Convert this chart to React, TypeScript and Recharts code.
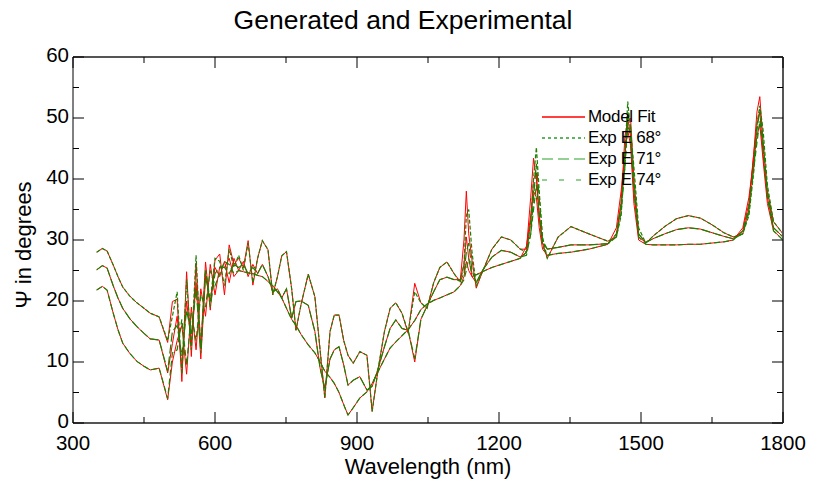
import React from 'react';
import { LineChart, Line, XAxis, YAxis } from 'recharts';

const W = 819;
const H = 489;
const FONT = '"Liberation Sans", Arial, sans-serif';

const wavelengths = [
  350, 362, 372, 385, 395, 405, 420, 435, 450, 463,
  482, 500, 510, 520, 530, 540, 550, 560, 570, 580,
  590, 600, 610, 620, 630, 640, 650, 660, 670, 680,
  690, 700, 712, 722, 732, 741, 751, 762, 771, 782,
  797, 811, 822, 832, 843, 852, 862, 872, 881, 892,
  906, 921, 932, 945, 958, 970, 982, 995, 1008, 1022,
  1035, 1048, 1062, 1075, 1090, 1105, 1118, 1126, 1131, 1136,
  1143, 1152, 1165, 1185, 1205, 1225, 1245, 1258, 1267, 1273,
  1279, 1285, 1292, 1302, 1325, 1352, 1390, 1430, 1448, 1458,
  1466, 1472, 1478, 1485, 1495, 1510, 1525, 1550, 1575, 1600,
  1625, 1650, 1675, 1695, 1715, 1728, 1738, 1745, 1751, 1758,
  1767, 1780, 1800,
];

const fit68 = [
  28.0, 28.6, 28.2, 25.9, 24.0, 22.3, 20.8, 19.7, 18.8, 18.0,
  17.4, 13.2, 19.9, 20.3, 6.8, 24.8, 10.9, 26.2, 12.5, 26.4,
  18.5, 26.7, 27.7, 21.0, 29.2, 26.0, 27.0, 25.5, 29.9, 22.6,
  27.0, 29.9, 28.4, 21.0, 24.0, 27.4, 28.1, 22.0, 15.2, 19.5,
  24.4, 20.7, 12.0, 4.1, 15.0, 17.7, 17.7, 13.5, 11.1, 9.8,
  11.7, 11.1, 1.9, 9.0, 15.0, 18.8, 19.7, 18.0, 14.7, 22.9,
  19.7, 18.8, 23.0, 25.5, 26.4, 24.5, 23.2, 30.0, 38.0, 31.0,
  26.7, 22.1, 24.8, 28.5, 30.5, 30.0, 28.5, 28.5, 37.0, 43.4,
  40.0, 34.0, 29.5, 27.0, 30.5, 32.2, 31.0, 29.8, 30.5, 36.0,
  47.0, 49.5, 50.0, 40.0, 31.0, 29.5, 30.6, 32.2, 33.5, 34.0,
  33.6, 32.5, 31.2, 30.5, 31.0, 35.0, 44.0, 51.0, 53.5, 46.0,
  38.0, 33.0, 31.0,
];

const exp68 = [
  28.0, 28.6, 28.2, 25.9, 24.0, 22.3, 20.8, 19.7, 18.8, 18.0,
  17.4, 13.5, 17.5, 21.5, 8.0, 23.5, 12.0, 27.5, 11.5, 25.0,
  20.0, 27.0, 26.5, 22.5, 28.5, 25.5, 27.5, 25.0, 29.5, 23.0,
  27.0, 29.9, 28.4, 21.0, 24.0, 27.4, 28.1, 22.0, 15.2, 19.5,
  24.4, 20.7, 12.0, 4.1, 15.0, 17.7, 17.7, 13.5, 11.1, 9.8,
  11.7, 11.1, 1.9, 9.0, 15.0, 18.8, 19.7, 18.0, 15.0, 21.5,
  19.7, 18.8, 23.0, 25.5, 26.4, 24.5, 23.0, 26.0, 34.0, 35.0,
  28.0, 22.5, 24.8, 28.5, 30.5, 30.0, 28.5, 28.0, 33.0, 40.0,
  45.2, 38.0, 30.5, 27.0, 30.5, 32.2, 31.0, 29.8, 30.5, 34.0,
  44.0, 52.7, 48.0, 42.0, 32.0, 29.5, 30.6, 32.2, 33.5, 34.0,
  33.6, 32.5, 31.2, 30.5, 31.0, 34.0, 41.0, 49.0, 52.0, 48.0,
  39.0, 33.0, 31.0,
];

const fit71 = [
  25.1, 25.8, 25.4, 22.5, 20.5, 18.8, 17.1, 15.8, 14.7, 13.8,
  13.6, 8.2, 13.0, 17.5, 9.0, 20.0, 13.0, 23.0, 10.5, 24.0,
  20.0, 25.5, 24.0, 26.5, 23.0, 27.0, 25.0, 26.5, 24.0, 26.0,
  24.5, 26.0, 24.0, 21.5, 22.0, 20.5, 22.0, 17.2, 19.9, 20.0,
  19.3, 15.0, 9.0, 5.7, 10.5, 12.0, 12.5, 9.5, 6.2, 7.0,
  7.6, 5.4, 6.0, 9.0, 12.5, 15.5, 16.9, 15.5, 15.2, 10.0,
  17.0, 19.2, 21.5, 23.5, 23.9, 23.5, 23.5, 26.0, 30.5, 27.0,
  24.0, 23.0, 25.0, 27.2, 28.3, 28.0, 27.2, 28.0, 33.0, 40.0,
  41.0, 34.0, 29.5, 28.5, 28.8, 29.2, 29.2, 29.4, 31.0, 36.0,
  44.0, 50.0, 47.0, 38.0, 30.5, 29.6, 30.2, 31.0, 31.7, 32.0,
  31.8, 31.2, 30.6, 30.2, 31.5, 36.0, 44.0, 49.0, 51.0, 44.0,
  37.0, 32.0, 30.5,
];

const exp71 = [
  25.1, 25.8, 25.4, 22.5, 20.5, 18.8, 17.1, 15.8, 14.7, 13.8,
  13.6, 8.5, 15.0, 16.0, 11.0, 18.5, 14.5, 22.0, 12.0, 25.0,
  19.0, 24.5, 25.5, 25.5, 24.5, 26.0, 25.5, 26.0, 24.5, 25.5,
  24.5, 26.0, 24.0, 21.5, 22.0, 20.5, 22.0, 17.2, 19.9, 20.0,
  19.3, 15.0, 9.0, 5.7, 10.5, 12.0, 12.5, 9.5, 6.2, 7.0,
  7.6, 5.4, 6.0, 9.0, 12.5, 15.5, 16.9, 15.5, 15.2, 10.5,
  17.0, 19.2, 21.5, 23.5, 23.9, 23.5, 23.3, 24.5, 28.0, 29.5,
  25.0, 23.0, 25.0, 27.2, 28.3, 28.0, 27.2, 27.5, 31.0, 37.0,
  42.5, 37.0, 30.0, 28.5, 28.8, 29.2, 29.2, 29.4, 30.5, 34.5,
  42.0, 51.0, 48.5, 40.0, 31.0, 29.6, 30.2, 31.0, 31.7, 32.0,
  31.8, 31.2, 30.6, 30.2, 31.0, 34.5, 42.0, 48.0, 51.5, 46.0,
  38.0, 32.0, 30.5,
];

const fit74 = [
  21.8, 22.4, 21.8, 18.0, 15.3, 13.1, 11.4, 10.1, 9.3, 8.7,
  9.0, 3.8, 10.0, 13.5, 16.0, 8.0, 19.0, 12.0, 22.0, 17.5,
  26.0, 21.0, 25.6, 25.5, 27.0, 24.0, 25.0, 24.8, 24.6, 24.5,
  24.2, 24.0, 23.2, 22.5, 21.5, 20.5, 18.8, 17.0, 16.0, 14.5,
  12.8, 11.5, 10.0, 8.5, 7.5, 6.5, 5.0, 3.0, 1.3, 2.5,
  4.1, 5.1, 6.5, 8.5, 10.5, 12.3, 13.3, 14.3, 15.3, 16.8,
  18.6, 19.5, 20.1, 20.5, 21.0, 21.5, 22.5, 24.0, 26.5, 25.0,
  24.0, 24.3, 24.8, 25.5, 26.0, 26.5, 27.0, 29.0, 34.0, 38.0,
  37.0, 32.0, 28.5, 27.5, 27.8, 28.0, 28.5, 29.3, 32.0, 38.0,
  44.0, 48.0, 45.5, 36.0, 30.0, 29.3, 29.2, 29.2, 29.2, 29.3,
  29.3, 29.5, 29.7, 30.0, 32.0, 37.0, 43.0, 47.0, 49.0, 43.0,
  36.0, 31.5, 30.0,
];

const exp74 = [
  21.8, 22.4, 21.8, 18.0, 15.3, 13.1, 11.4, 10.1, 9.3, 8.7,
  9.0, 4.0, 11.5, 12.0, 17.0, 9.5, 18.0, 13.5, 21.0, 19.0,
  25.0, 22.5, 24.5, 26.5, 26.0, 24.5, 25.0, 24.8, 24.6, 24.5,
  24.2, 24.0, 23.2, 22.5, 21.5, 20.5, 18.8, 17.0, 16.0, 14.5,
  12.8, 11.5, 10.0, 8.5, 7.5, 6.5, 5.0, 3.0, 1.3, 2.5,
  4.1, 5.1, 6.5, 8.5, 10.5, 12.3, 13.3, 14.3, 15.3, 16.8,
  18.6, 19.5, 20.1, 20.5, 21.0, 21.5, 22.5, 23.5, 25.0, 27.0,
  24.5, 24.3, 24.8, 25.5, 26.0, 26.5, 27.0, 28.0, 31.0, 35.0,
  39.0, 34.0, 29.0, 27.5, 27.8, 28.0, 28.5, 29.3, 31.0, 36.0,
  42.0, 49.0, 47.0, 38.0, 30.5, 29.3, 29.2, 29.2, 29.2, 29.3,
  29.3, 29.5, 29.7, 30.0, 31.5, 35.5, 41.5, 46.0, 49.5, 45.0,
  37.0, 31.5, 30.0,
];

const xTicks = [300, 450, 600, 750, 900, 1050, 1200, 1350, 1500, 1650, 1800];
const xMajor = [300, 600, 900, 1200, 1500, 1800];
const yTicks = [0, 5, 10, 15, 20, 25, 30, 35, 40, 45, 50, 55, 60];
const yMajor = [0, 10, 20, 30, 40, 50, 60];

const legendItems = [
  { name: 'Model Fit', color: '#ff0000', dash: undefined as string | undefined },
  { name: 'Exp E 68°', color: '#2e9a2e', dash: '3 3' },
  { name: 'Exp E 71°', color: '#72c072', dash: '11 5' },
  { name: 'Exp E 74°', color: '#72c072', dash: '5 12' },
];

const data = wavelengths.map((wl, i) => ({
  wl,
  fit68: fit68[i],
  exp68: exp68[i],
  fit71: fit71[i],
  exp71: exp71[i],
  fit74: fit74[i],
  exp74: exp74[i],
}));

const MAJ = 11;
const MIN = 6;

const BottomTick = (props: any) => {
  const { x, y, payload } = props;
  const major = xMajor.includes(payload.value);
  return (
    <g>
      <line x1={x} y1={y} x2={x} y2={y - (major ? MAJ : MIN)} stroke="#000" strokeWidth={1} />
      {major && (
        <text x={x} y={y + 27} textAnchor="middle" fontSize={20.5} fontFamily={FONT} fill="#000">
          {payload.value}
        </text>
      )}
    </g>
  );
};

const TopTick = (props: any) => {
  const { x, y, payload } = props;
  const major = xMajor.includes(payload.value);
  return <line x1={x} y1={y} x2={x} y2={y + (major ? MAJ : MIN)} stroke="#000" strokeWidth={1} />;
};

const LeftTick = (props: any) => {
  const { x, y, payload } = props;
  const major = yMajor.includes(payload.value);
  return (
    <g>
      <line x1={x} y1={y} x2={x + (major ? MAJ : MIN)} y2={y} stroke="#000" strokeWidth={1} />
      {major && (
        <text x={x - 4} y={y + 5} textAnchor="end" fontSize={20.5} fontFamily={FONT} fill="#000">
          {payload.value}
        </text>
      )}
    </g>
  );
};

const RightTick = (props: any) => {
  const { x, y, payload } = props;
  const major = yMajor.includes(payload.value);
  return <line x1={x} y1={y} x2={x - (major ? MAJ : MIN)} y2={y} stroke="#000" strokeWidth={1} />;
};

const LegendBox = () => (
  <div style={{ position: 'absolute', left: 541, top: 106, fontFamily: FONT, fontSize: 17, color: '#000', lineHeight: '21px' }}>
    {legendItems.map((it) => (
      <div key={it.name} style={{ display: 'flex', alignItems: 'center', height: 21 }}>
        <svg width={46} height={21} style={{ display: 'block' }}>
          <line x1={1} y1={11} x2={44} y2={11} stroke={it.color} strokeWidth={1.5} strokeDasharray={it.dash} />
        </svg>
        <span style={{ marginLeft: 1, letterSpacing: -0.3, whiteSpace: 'nowrap' }}>{it.name}</span>
      </div>
    ))}
  </div>
);

export default function App() {
  return (
    <div style={{ position: 'absolute', left: 0, top: 0, width: W, height: H, background: '#fff', fontFamily: FONT }}>
      <LineChart width={W} height={H} data={data} margin={{ top: 0, right: 0, bottom: 0, left: 0 }}>
        <XAxis
          xAxisId="bottom"
          dataKey="wl"
          type="number"
          domain={[300, 1800]}
          ticks={xTicks}
          interval={0}
          allowDataOverflow
          height={66}
          tickSize={0}
          tickMargin={0}
          tick={BottomTick}
          axisLine={{ stroke: '#555', strokeWidth: 2 }}
          tickLine={false}
        />
        <XAxis
          xAxisId="top"
          orientation="top"
          dataKey="wl"
          type="number"
          domain={[300, 1800]}
          ticks={xTicks}
          interval={0}
          allowDataOverflow
          height={57}
          tickSize={0}
          tickMargin={0}
          tick={TopTick}
          axisLine={{ stroke: '#555', strokeWidth: 2 }}
          tickLine={false}
        />
        <YAxis
          yAxisId="left"
          type="number"
          domain={[0, 60]}
          ticks={yTicks}
          interval={0}
          allowDataOverflow
          width={73}
          tickSize={0}
          tickMargin={0}
          tick={LeftTick}
          axisLine={{ stroke: '#000', strokeWidth: 1 }}
          tickLine={false}
        />
        <YAxis
          yAxisId="right"
          orientation="right"
          type="number"
          domain={[0, 60]}
          ticks={yTicks}
          interval={0}
          allowDataOverflow
          width={36}
          tickSize={0}
          tickMargin={0}
          tick={RightTick}
          axisLine={{ stroke: '#555', strokeWidth: 2 }}
          tickLine={false}
        />
        <Line xAxisId="bottom" yAxisId="left" dataKey="fit68" type="linear" stroke="#ff0000" strokeWidth={1} dot={false} isAnimationActive={false} />
        <Line xAxisId="bottom" yAxisId="left" dataKey="fit71" type="linear" stroke="#ff0000" strokeWidth={1} dot={false} isAnimationActive={false} />
        <Line xAxisId="bottom" yAxisId="left" dataKey="fit74" type="linear" stroke="#ff0000" strokeWidth={1} dot={false} isAnimationActive={false} />
        <Line xAxisId="bottom" yAxisId="left" dataKey="exp68" type="linear" stroke="#1f7f00" strokeWidth={1.2} strokeDasharray="4 2" dot={false} isAnimationActive={false} />
        <Line xAxisId="bottom" yAxisId="left" dataKey="exp71" type="linear" stroke="#1f7f00" strokeWidth={1.2} strokeDasharray="9 3" dot={false} isAnimationActive={false} />
        <Line xAxisId="bottom" yAxisId="left" dataKey="exp74" type="linear" stroke="#1f7f00" strokeWidth={1.2} strokeDasharray="6 3" dot={false} isAnimationActive={false} />
      </LineChart>
      <LegendBox />
      <div style={{ position: 'absolute', left: 0, top: 6, width: 806, textAlign: 'center', fontSize: 26.5, lineHeight: '28px', color: '#000' }}>
        Generated and Experimental
      </div>
      <div style={{ position: 'absolute', left: 0, top: 455, width: 856, textAlign: 'center', fontSize: 22, lineHeight: '24px', color: '#000' }}>
        Wavelength (nm)
      </div>
      <div
        style={{
          position: 'absolute',
          left: 24,
          top: 245,
          transform: 'translate(-50%, -50%) rotate(-90deg)',
          whiteSpace: 'nowrap',
          fontSize: 22,
          lineHeight: '24px',
          color: '#000',
        }}
      >
        Ψ in degrees
      </div>
    </div>
  );
}
